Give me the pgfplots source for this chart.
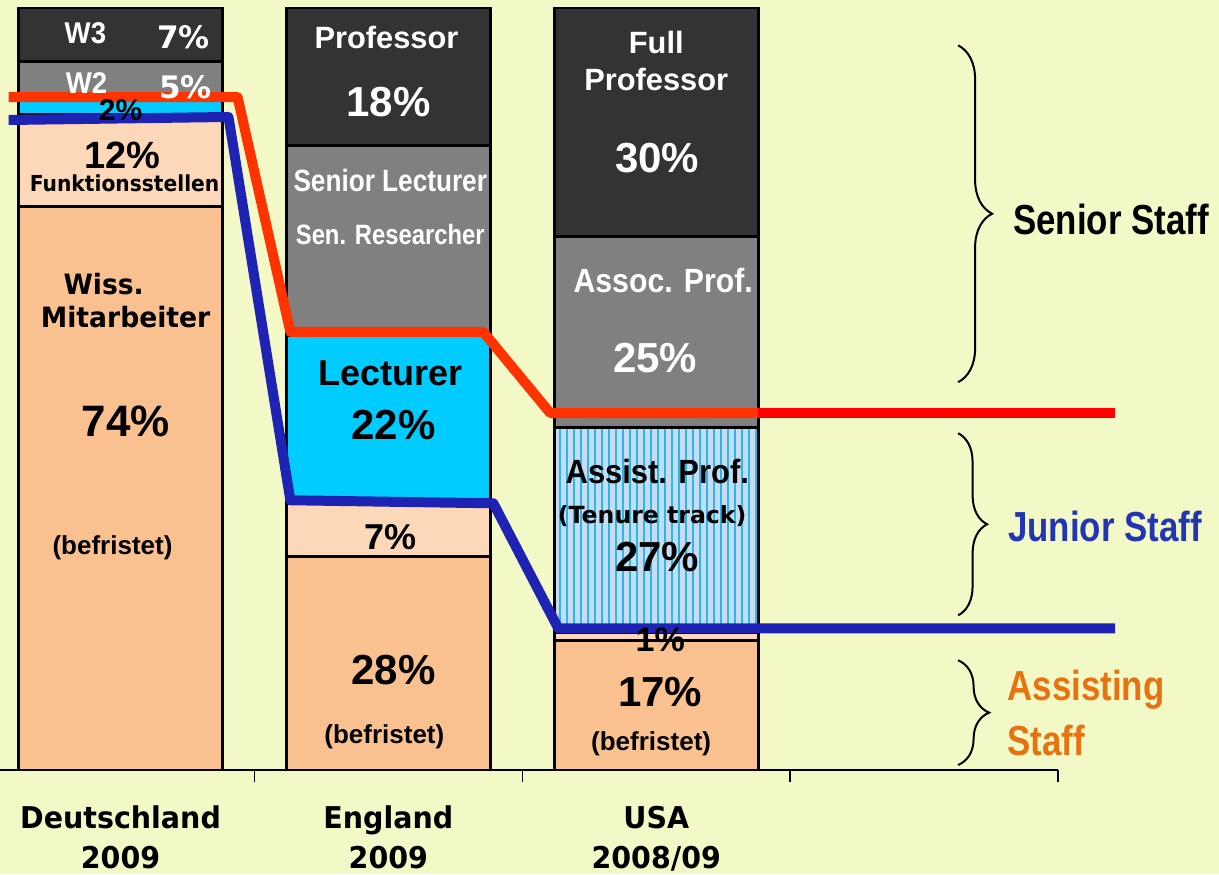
\documentclass[border=0pt]{standalone}
\usepackage{fontspec}
\setmainfont{Liberation Sans}
\newfontfamily\heavy{DejaVu Sans}
\usepackage{pgfplots}
\pgfplotsset{compat=1.18}
\usetikzlibrary{patterns.meta,decorations.pathreplacing}

\definecolor{bg}{HTML}{F3F9C6}
\definecolor{peach}{HTML}{F9C090}
\definecolor{lpeach}{HTML}{FCD8B8}
\definecolor{cyanseg}{HTML}{00CCFF}
\definecolor{midgray}{HTML}{808080}
\definecolor{darkgray}{HTML}{333333}
\definecolor{paleblue}{HTML}{C6DCF0}
\definecolor{stripe}{HTML}{2BB6EC}
\definecolor{seniorRed}{HTML}{FF3300}
\definecolor{pureRed}{HTML}{FF0000}
\definecolor{juniorBlue}{HTML}{1F23B4}
\definecolor{juniorText}{HTML}{2236B4}
\definecolor{assistOrange}{HTML}{E8720F}

\newcommand\fs[1]{\fontsize{#1}{#1}\selectfont}
\newcommand\sx[2]{\scalebox{#1}[1]{#2}}

\tikzset{
  seg/.style   = {ybar, bar width=102pt, bar shift=0pt, draw=black, line width=1.4pt},
  lbl/.style   = {inner sep=0pt, anchor=center, align=center},
  staffline/.style = {line width=5pt, line join=round, on layer=axis foreground},
  staffbrace/.style = {line width=1pt, decorate, decoration={brace, amplitude=#1}},
}

\begin{document}
\begin{tikzpicture}
\pgfplotsset{set layers}
\begin{pgfonlayer}{axis background}
  \fill[bg] (0,0) rectangle (609.5pt,437pt);
\end{pgfonlayer}
\begin{axis}[
  at={(0pt,52pt)}, anchor=south west,
  scale only axis, width=529pt, height=381pt,
  xmin=-0.45, xmax=3.5, ymin=0, ymax=100,
  clip=false,
  axis x line*=bottom, axis y line=none,
  axis line style={line width=1pt, -},
  xtick={0,1,2},
  xticklabels={{\sx{0.95}{Deutschland}\\\sx{0.95}{2009}},
               {\sx{0.95}{England}\\\sx{0.95}{2009}},
               {\sx{0.95}{USA}\\\sx{0.95}{2008/09}}},
  major tick length=0pt,
  minor xtick={0.5,1.5,2.5,3.5},
  minor tick length=6pt,
  tick align=outside,
  minor tick style={line width=0.7pt, black},
  xticklabel style={align=center, font=\heavy\bfseries\fontsize{15}{20}\selectfont, yshift=-14.5pt},
]
% cumulative shares, top segment first so that lower ones overlay it
% Deutschland: 74 / 12 / 2 / 5 / 7
\addplot[seg, fill=darkgray] coordinates {(0,100)};
\addplot[seg, fill=midgray]  coordinates {(0,93)};
\addplot[seg, fill=cyanseg]  coordinates {(0,88)};
\addplot[seg, fill=lpeach]   coordinates {(0,86)};
\addplot[seg, fill=peach]    coordinates {(0,74)};
% England: 28 / 7 / 22 / 25 / 18
\addplot[seg, fill=darkgray] coordinates {(1,100)};
\addplot[seg, fill=midgray]  coordinates {(1,82)};
\addplot[seg, fill=cyanseg]  coordinates {(1,57)};
\addplot[seg, fill=lpeach]   coordinates {(1,35)};
\addplot[seg, fill=peach]    coordinates {(1,28)};
% USA: 17 / 1 / 27 / 25 / 30
\addplot[seg, fill=darkgray] coordinates {(2,100)};
\addplot[seg, fill=midgray]  coordinates {(2,70)};
\addplot[seg, fill=paleblue,
  postaction={pattern={Lines[angle=90,distance=3.5pt,line width=0.9pt]},
              pattern color=stripe}] coordinates {(2,45)};
\addplot[seg, fill=lpeach]   coordinates {(2,18)};
\addplot[seg, fill=peach]    coordinates {(2,17)};

% senior / junior boundaries
\addplot[staffline, seniorRed] coordinates {
  (-0.418,88.3) (0.437,88.3) (0.634,57.5) (1.354,57.5) (1.604,46.85) (2.38,46.85)};
\addplot[staffline, pureRed] coordinates {(2.38,46.85) (3.713,46.85)};
\addplot[staffline, juniorBlue] coordinates {
  (-0.418,85.3) (0.403,85.7) (0.634,35.4) (1.392,35.0) (1.634,18.6) (3.713,18.6)};

% Deutschland labels
\node[lbl, white, font=\bfseries\fs{15}] at (-0.131,96.7) {\sx{0.92}{W3}};
\node[lbl, white, font=\heavy\bfseries\fs{15.5}] at (0.235,96.2) {7\%};
\node[lbl, white, font=\bfseries\fs{15}] at (-0.127,90.2) {\sx{0.92}{W2}};
\node[lbl, white, font=\heavy\bfseries\fs{15.5}] at (0.243,89.6) {5\%};
\node[lbl, font=\bfseries\fs{15}] at (0,86.6) {2\%};
\node[lbl, font=\bfseries\fs{19}] at (0.007,80.7) {12\%};
\node[lbl, font=\heavy\bfseries\fs{11}] at (0.015,77.0) {\sx{0.92}{Funktionsstellen}};
\node[lbl, font=\heavy\bfseries\fs{14}] at (-0.063,63.8) {\sx{0.95}{Wiss.}};
\node[lbl, font=\heavy\bfseries\fs{14}] at (0.019,59.4) {\sx{0.95}{Mitarbeiter}};
\node[lbl, font=\bfseries\fs{22}] at (0.019,45.8) {74\%};
\node[lbl, font=\bfseries\fs{13}] at (-0.03,29.1) {(befristet)};

% England labels
\node[lbl, white, font=\bfseries\fs{15.4}] at (0.993,96.1) {Professor};
\node[lbl, white, font=\bfseries\fs{21}] at (1.0,87.7) {18\%};
\node[lbl, white, font=\bfseries\fs{15.4}] at (1.007,77.3) {\sx{0.85}{Senior Lecturer}};
\node[lbl, white, font=\bfseries\fs{14}] at (1.007,70.3) {\sx{0.85}{Sen. Researcher}};
\node[lbl, font=\bfseries\fs{18}] at (1.007,52.1) {Lecturer};
\node[lbl, font=\bfseries\fs{21}] at (1.019,45.3) {22\%};
\node[lbl, font=\bfseries\fs{18}] at (1.007,30.6) {7\%};
\node[lbl, font=\bfseries\fs{21}] at (1.019,13.1) {28\%};
\node[lbl, font=\bfseries\fs{13}] at (0.985,4.3) {(befristet)};

% USA labels
\node[lbl, white, font=\bfseries\fs{15.4}] at (2.0,95.5) {Full};
\node[lbl, white, font=\bfseries\fs{15.4}] at (2.0,90.6) {Professor};
\node[lbl, white, font=\bfseries\fs{21}] at (2.004,80.3) {30\%};
\node[lbl, white, font=\bfseries\fs{16.8}] at (2.026,64.3) {\sx{0.9}{Assoc. Prof.}};
\node[lbl, white, font=\bfseries\fs{21}] at (1.996,54.1) {25\%};
\node[lbl, font=\bfseries\fs{16.8}] at (2.004,39.2) {\sx{0.92}{Assist. Prof.}};
\node[lbl, font=\heavy\bfseries\fs{11.8}] at (1.985,33.3) {(Tenure track)};
\node[lbl, font=\bfseries\fs{21}] at (2.004,28.0) {27\%};
\node[lbl, font=\bfseries\fs{17}] at (2.015,17.1) {1\%};
\node[lbl, font=\bfseries\fs{21}] at (2.015,10.2) {17\%};
\node[lbl, font=\bfseries\fs{13}] at (1.981,3.5) {(befristet)};

% staff groups
\draw[staffbrace=17pt] (3.127,95.1) -- (3.127,50.9);
\draw[staffbrace=14.5pt] (3.127,44.2) -- (3.127,20.3);
\draw[staffbrace=15.5pt] (3.127,14.4) -- (3.127,0.66);
\node[lbl, font=\bfseries\fs{21}] at (3.698,72.2) {\sx{0.83}{Senior Staff}};
\node[lbl, juniorText, font=\bfseries\fs{21}] at (3.675,31.9) {\sx{0.83}{Junior Staff}};
\node[lbl, assistOrange, anchor=west, font=\bfseries\fs{21}] at (3.31,10.5) {\sx{0.83}{Assisting}};
\node[lbl, assistOrange, anchor=west, font=\bfseries\fs{21}] at (3.31,3.9) {\sx{0.83}{Staff}};
\end{axis}
\pgfresetboundingbox
\useasboundingbox (0,0) rectangle (609.5pt,437pt);
\end{tikzpicture}
\end{document}
